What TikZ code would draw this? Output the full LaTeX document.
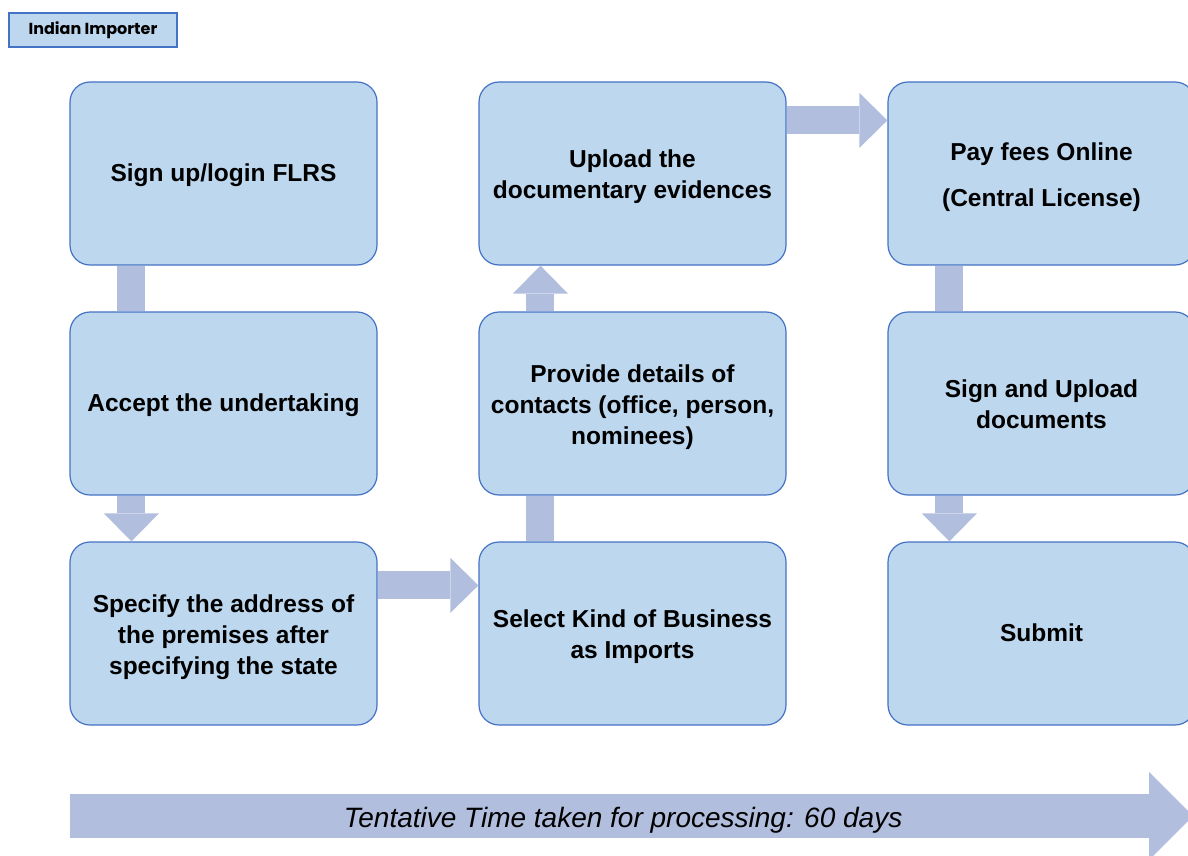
\documentclass[tikz,border=0pt]{standalone}
\usepackage{fontspec}
\setmainfont{Liberation Sans}
\newfontfamily\tagfont{Poppins}
\usetikzlibrary{arrows.meta, calc}
\definecolor{boxblue}{RGB}{189,215,238}
\definecolor{edgeblue}{RGB}{68,114,196}
\definecolor{flowblue}{RGB}{178,190,222}
\newcommand{\fullline}{\rule[-0.212em]{0pt}{1.117em}}
\newcommand{\lift}{\rule{0pt}{25pt}}
\tikzset{stage/.style={shape=rectangle, rounded corners=20pt, draw=edgeblue,
    fill=boxblue, line width=1.2pt, minimum width=307pt, minimum height=183pt,
    align=center, inner sep=0pt,
    font=\bfseries\fontsize{24.5}{31}\selectfont\fullline}}
\tikzset{tagbox/.style={draw=edgeblue, fill=boxblue, line width=1.2pt,
    minimum width=168pt, minimum height=34pt, inner sep=0pt,
    font=\tagfont\bfseries\fontsize{16}{18}\selectfont}}
\tikzset{link/.style={draw=flowblue, line width=28pt}}
\tikzset{flow/.style={link, -{Triangle[length=28pt, width=55pt, line width=0pt]}}}
\tikzset{timeline/.style={draw=flowblue, line width=44pt,
    -{Triangle[length=44pt, width=88pt, line width=0pt]}}}

\begin{document}
\begin{tikzpicture}[x=1pt, y=-1pt]
  \useasboundingbox (0,0) rectangle (1188,856);
  \node[tagbox] (tag) at (93,30) {Indian Importer};
  % first column
  \node[stage] (signup) at (223.5,173.5) {Sign up/login FLRS};
  \node[stage] (accept) at (223.5,403.5) {Accept the undertaking};
  \node[stage] (address) at (223.5,633.5) {\lift Specify the address of\\the premises after\\specifying the state};
  % second column
  \node[stage] (kind) at (632.5,633.5) {\lift Select Kind of Business\\as Imports};
  \node[stage] (contacts) at (632.5,403.5) {\lift Provide details of\\contacts (office, person,\\nominees)};
  \node[stage] (upload) at (632.5,173.5) {\lift Upload the\\documentary evidences};
  % third column (runs past the right edge)
  \node[stage] (fees) at (1041.5,173.5) {\lift Pay fees Online\\[15pt](Central License)};
  \node[stage] (sign) at (1041.5,403.5) {\lift Sign and Upload\\documents};
  \node[stage] (submit) at (1041.5,633.5) {Submit};

  \path[link] ($(signup.south west)+(62,0)$) -- ($(accept.north west)+(62,0)$);
  \path[flow] ($(accept.south west)+(62,0)$) -- ($(address.north west)+(62,0)$);
  \path[flow] ($(address.north east)+(0,44)$) -- ($(kind.north west)+(0,44)$);
  \path[link] ($(kind.north west)+(62,0)$) -- ($(contacts.south west)+(62,0)$);
  \path[flow] ($(contacts.north west)+(62,0)$) -- ($(upload.south west)+(62,0)$);
  \path[flow] ($(upload.north east)+(0,39)$) -- ($(fees.north west)+(0,39)$);
  \path[link] ($(fees.south west)+(62,0)$) -- ($(sign.north west)+(62,0)$);
  \path[flow] ($(sign.south west)+(62,0)$) -- ($(submit.north west)+(62,0)$);

  % time bar
  \coordinate (t0) at (70,816);
  \coordinate (t1) at (1193,816);
  \path[timeline] (t0) -- (t1) node[pos=0.4925, yshift=-2pt, font=\itshape\fontsize{28}{34}\selectfont\fullline] (span) {Tentative Time taken for processing: 60 days};
\end{tikzpicture}
\end{document}
